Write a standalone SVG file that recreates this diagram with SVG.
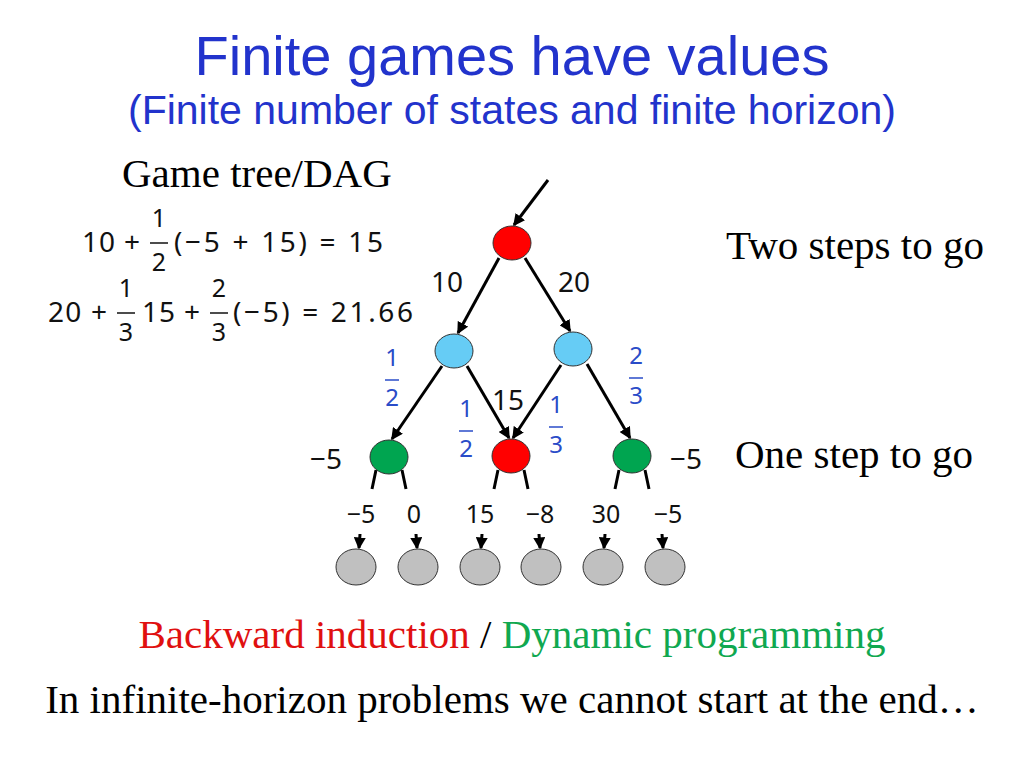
<svg xmlns="http://www.w3.org/2000/svg" width="1024" height="768" viewBox="0 0 1024 768">
<style>
.t{font-family:"Liberation Sans",Arial,sans-serif;fill:#2233cc;text-anchor:middle}
.s{font-family:"Liberation Serif","Times New Roman",serif;font-size:41px;fill:#000}
.m{font-family:"Noto Sans","DejaVu Sans",sans-serif;font-size:28px;fill:#111}
.f{font-family:"Noto Sans","DejaVu Sans",sans-serif;font-size:24px;fill:#2a4cc8;text-anchor:middle}
.fm{font-family:"Noto Sans","DejaVu Sans",sans-serif;font-size:25px;fill:#111;text-anchor:middle}
.e{stroke:#000;stroke-width:3;fill:none}
.n{stroke:#333;stroke-width:1}
</style>
<defs><marker id="a" markerWidth="4" markerHeight="4" refX="3.5" refY="2" orient="auto" markerUnits="strokeWidth"><path d="M0,0L4,2L0,4z" fill="#000"/></marker></defs>
<rect width="1024" height="768" fill="#fff"/>
<text class="t" x="512" y="75" font-size="56">Finite games have values</text>
<text class="t" x="512" y="124" font-size="41">(Finite number of states and finite horizon)</text>
<text class="s" x="122" y="187">Game tree/DAG</text>
<text class="s" x="726" y="259">Two steps to go</text>
<text class="s" x="735" y="468">One step to go</text>
<text class="s" x="512" y="648" text-anchor="middle"><tspan fill="#e01010">Backward induction</tspan> / <tspan fill="#10a850">Dynamic programming</tspan></text>
<text class="s" x="512" y="713" text-anchor="middle">In infinite-horizon problems we cannot start at the end…</text>
<g id="eq1">
<text class="m" x="82" y="252" textLength="58">10 +</text>
<text class="fm" x="159" y="227">1</text><line x1="150" y1="243" x2="168" y2="243" stroke="#111" stroke-width="1.5"/><text class="fm" x="159" y="271">2</text>
<text class="m" x="174" y="252" textLength="209">(−5 + 15) = 15</text>
</g>
<g id="eq2">
<text class="m" x="48" y="322" textLength="59">20 +</text>
<text class="fm" x="126" y="297">1</text><line x1="117" y1="313" x2="135" y2="313" stroke="#111" stroke-width="1.5"/><text class="fm" x="126" y="341">3</text>
<text class="m" x="142" y="322" textLength="58">15 +</text>
<text class="fm" x="219" y="297">2</text><line x1="210" y1="313" x2="228" y2="313" stroke="#111" stroke-width="1.5"/><text class="fm" x="219" y="341">3</text>
<text class="m" x="233" y="322" textLength="180">(−5) = 21.66</text>
</g>
<g id="connectors">
<line class="e" x1="548" y1="180" x2="514" y2="225" marker-end="url(#a)"/>
<line class="e" x1="499" y1="258" x2="458" y2="333" marker-end="url(#a)"/>
<line class="e" x1="525" y1="258" x2="570" y2="331" marker-end="url(#a)"/>
<line class="e" x1="442" y1="366" x2="392" y2="439" marker-end="url(#a)"/>
<line class="e" x1="467" y1="366" x2="509" y2="438" marker-end="url(#a)"/>
<line class="e" x1="561" y1="365" x2="513" y2="438" marker-end="url(#a)"/>
<line class="e" x1="587" y1="364" x2="630" y2="438" marker-end="url(#a)"/>
<path class="e" d="M376,470L372,489M402,470L406,489M498,470L494,489M524,470L528,489M619,470L615,489M645,470L649,489"/>
<line class="e" x1="360" y1="534" x2="359" y2="548" stroke-width="2.5" marker-end="url(#a)"/>
<line class="e" x1="416" y1="534" x2="417" y2="548" stroke-width="2.5" marker-end="url(#a)"/>
<line class="e" x1="482" y1="534" x2="481" y2="548" stroke-width="2.5" marker-end="url(#a)"/>
<line class="e" x1="539" y1="534" x2="540" y2="548" stroke-width="2.5" marker-end="url(#a)"/>
<line class="e" x1="605" y1="534" x2="604" y2="548" stroke-width="2.5" marker-end="url(#a)"/>
<line class="e" x1="662" y1="534" x2="663" y2="548" stroke-width="2.5" marker-end="url(#a)"/>
</g>
<g id="root"><ellipse class="n" cx="512" cy="243" rx="19" ry="17" fill="#ff0000"/></g>
<g id="c1"><ellipse class="n" cx="454" cy="351" rx="19" ry="17" fill="#66ccf5"/></g>
<g id="c2"><ellipse class="n" cx="573" cy="349" rx="19" ry="17" fill="#66ccf5"/></g>
<g id="g1"><ellipse class="n" cx="389" cy="457" rx="19" ry="17" fill="#00a550"/></g>
<g id="r2"><ellipse class="n" cx="511" cy="456" rx="19" ry="17" fill="#ff0000"/></g>
<g id="g2"><ellipse class="n" cx="632" cy="456" rx="19" ry="17" fill="#00a550"/></g>
<g id="leaves" fill="#c0c0c0">
<g id="l1"><ellipse class="n" cx="356" cy="567" rx="20" ry="18"/></g>
<g id="l2"><ellipse class="n" cx="418" cy="567" rx="20" ry="18"/></g>
<g id="l3"><ellipse class="n" cx="480" cy="567" rx="20" ry="18"/></g>
<g id="l4"><ellipse class="n" cx="541" cy="567" rx="20" ry="18"/></g>
<g id="l5"><ellipse class="n" cx="603" cy="567" rx="20" ry="18"/></g>
<g id="l6"><ellipse class="n" cx="665" cy="567" rx="20" ry="18"/></g>
</g>
<g class="m" font-size="31">
<text x="431" y="292">10</text><text x="558" y="292">20</text>
<text x="492" y="410">15</text>
<text x="310" y="469">−5</text><text x="670" y="469">−5</text>
</g>
<g class="fm" font-size="27">
<text x="361" y="523">−5</text><text x="414" y="523">0</text><text x="480" y="523">15</text>
<text x="540" y="523">−8</text><text x="606" y="523">30</text><text x="668" y="523">−5</text>
</g>
<g id="probs">
<text class="f" x="392" y="366">1</text><line x1="385" y1="380" x2="399" y2="380" stroke="#2a4cc8" stroke-width="1.5"/><text class="f" x="392" y="406">2</text>
<text class="f" x="466" y="417">1</text><line x1="459" y1="431" x2="473" y2="431" stroke="#2a4cc8" stroke-width="1.5"/><text class="f" x="466" y="457">2</text>
<text class="f" x="556" y="413">1</text><line x1="549" y1="427" x2="563" y2="427" stroke="#2a4cc8" stroke-width="1.5"/><text class="f" x="556" y="453">3</text>
<text class="f" x="636" y="364">2</text><line x1="629" y1="378" x2="643" y2="378" stroke="#2a4cc8" stroke-width="1.5"/><text class="f" x="636" y="404">3</text>
</g>
</svg>
